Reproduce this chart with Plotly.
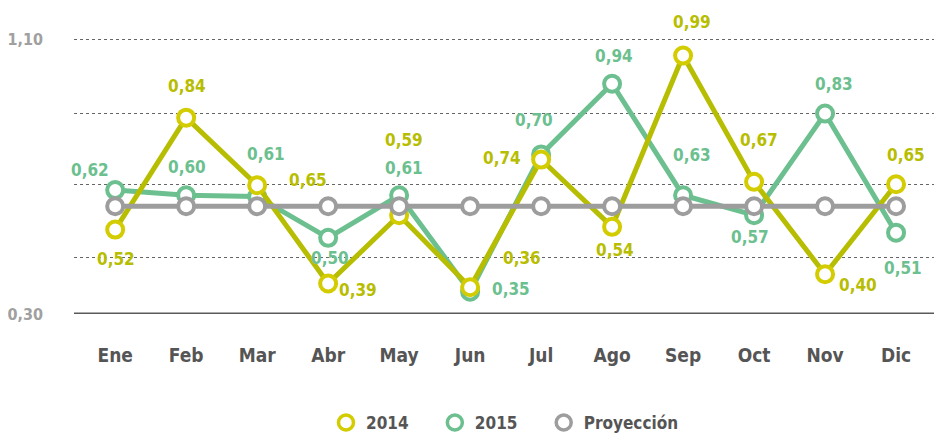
import plotly.graph_objects as go

months = ["Ene", "Feb", "Mar", "Abr", "May", "Jun", "Jul", "Ago", "Sep", "Oct", "Nov", "Dic"]

# positions
y2014 = [0.546, 0.872, 0.675, 0.389, 0.588, 0.378, 0.750, 0.554, 1.053, 0.685, 0.416, 0.678]
y2015 = [0.661, 0.646, 0.642, 0.522, 0.646, 0.365, 0.765, 0.971, 0.646, 0.588, 0.884, 0.537]
yproj = [0.614] * 12

# printed labels
lab2014 = ["0,52", "0,84", "0,65", "0,39", "0,59", "0,36", "0,74", "0,54", "0,99", "0,67", "0,40", "0,65"]
lab2015 = ["0,62", "0,60", "0,61", "0,50", "0,61", "0,35", "0,70", "0,94", "0,63", "0,57", "0,83", "0,51"]

grid_levels = [0.30, 0.466, 0.678, 0.885, 1.10]
grid_text = ["0,30", "", "", "", "1,10"]

# label offsets (px) relative to their point
off2014 = [(1, -29), (1, 32), (51, 5), (30, -7), (5, 75), (52, 29), (-39, 2), (3, -23), (9, 34), (5, 42), (33, -11), (10, 29)]
off2015 = [(-25, 20), (1, 28), (9, 43), (2, -20), (5, 27), (41, 3), (-7, 34), (2, 28), (9, 40), (-4, -22), (9, 30), (7, -35)]

C14_LINE = "#b7bd00"
C14_MARK = "#d2cc00"
C15 = "#6cbf8e"
CPR = "#9d9d9d"
FONT = "DejaVu Sans Condensed, Liberation Sans Narrow, sans-serif"
PAD = "\u00a0" * 4

fig = go.Figure()

def series(name, y, line_c, mark_c):
    fig.add_trace(go.Scatter(
        x=months, y=y, mode="lines+markers", name=name, showlegend=False,
        line=dict(color=line_c, width=5),
        marker=dict(size=16, color="white", line=dict(color=mark_c, width=4)),
        cliponaxis=False, hoverinfo="skip"))

series("2015", y2015, C15, C15)
series("2014", y2014, C14_LINE, C14_MARK)
series("Proyección", yproj, CPR, CPR)

for name, c in [("2014" + PAD, C14_MARK), ("2015" + PAD, C15), ("Proyección", CPR)]:
    fig.add_trace(go.Scatter(
        x=[None], y=[None], mode="markers", name=name,
        marker=dict(size=15, color="white", line=dict(color=c, width=3.5))))

anns = []
for y, labs, offs, col in [(y2014, lab2014, off2014, C14_LINE), (y2015, lab2015, off2015, C15)]:
    for m, v, t, (dx, dy) in zip(months, y, labs, offs):
        anns.append(dict(x=m, y=v, xref="x", yref="y", text=t, showarrow=False,
                         xshift=dx, yshift=dy,
                         font=dict(family=FONT, size=17, color=col, weight="bold")))

fig.update_layout(
    width=942, height=437,
    margin=dict(l=66, r=0, t=28, b=131),
    paper_bgcolor="white", plot_bgcolor="white",
    annotations=anns,
    showlegend=True,
    legend=dict(orientation="h", x=0.492, xanchor="center", y=-0.392, yanchor="middle",
                font=dict(family=FONT, size=17, color="#555555", weight="bold"),
                itemwidth=30, tracegroupgap=0),
    xaxis=dict(
        range=[-0.58, 11.76], showgrid=False, zeroline=False, automargin=False,
        showline=False, ticks="", ticklabelstandoff=28,
        tickfont=dict(family=FONT, size=19, color="#555555", weight="bold")),
    yaxis=dict(
        range=[0.30, 1.11], tickvals=grid_levels, ticktext=grid_text, automargin=False,
        showgrid=True, gridcolor="#666666", griddash="dot", gridwidth=1,
        zeroline=False, showline=False, ticks="", ticklabelstandoff=30,
        tickfont=dict(family=FONT, size=16, color="#a0a0a0", weight="bold")),
    shapes=[dict(type="line", xref="paper", yref="y", x0=0, x1=1, y0=grid_levels[0], y1=grid_levels[0],
                 line=dict(color="#5a5a5a", width=3), layer="below")],
)

fig.write_html("out.html")
